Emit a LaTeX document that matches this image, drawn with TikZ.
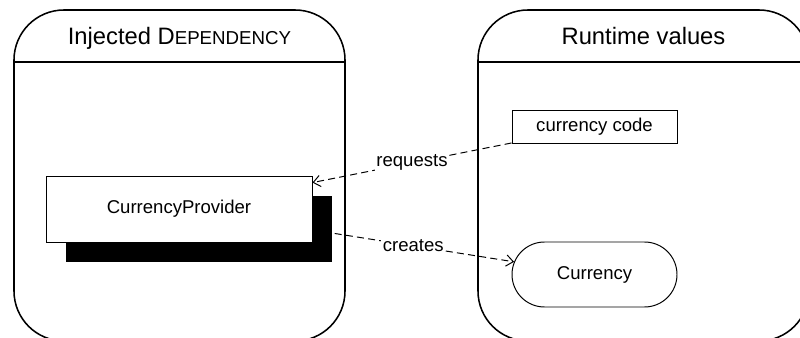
\documentclass[tikz,border=0pt]{standalone}
\usepackage{fontspec}
\setmainfont{Liberation Sans}
\usetikzlibrary{arrows.meta, shadows, shapes.misc}

\begin{document}
\begin{tikzpicture}[x=0.25mm, y=-0.25mm, font=\fontsize{13.2}{15}\selectfont,
    lane/.style={draw, line width=1.1pt, rounded corners=12.5mm,
      minimum width=82.75mm, minimum height=82.75mm, inner sep=0pt},
    box/.style={draw, line width=0.7pt, fill=white, inner sep=0pt},
    dep/.style={line width=0.7pt, dash pattern=on 5pt off 3pt,
      -{Straight Barb[length=5pt, width=8pt]}},
    lbl/.style={fill=white, inner sep=1pt, midway}]
  \path[use as bounding box, clip] (0,0) rectangle (800,338);
  % the two lanes, cut off at the bottom and on the right
  \node[lane] (inj) at (179.5,175.5) {};
  \node[lane] (run) at (643.5,175.5) {};
  \draw[line width=1.1pt] (inj.west |- 0,62) -- (inj.east |- 0,62);
  \draw[line width=1.1pt] (run.west |- 0,62) -- (run.east |- 0,62);
  \node[anchor=base] (injtitle) at (inj.north |- 0,45)
    {\fontsize{16.9}{20}\selectfont Injected D{\fontsize{13.3}{16}\selectfont EPENDENCY}};
  \node[anchor=base] (runtitle) at (run.north |- 0,45)
    {\fontsize{16.9}{20}\selectfont Runtime values};
  % the nodes
  \node[box, minimum width=66.5mm, minimum height=16.5mm,
    drop shadow={shadow xshift=5mm, shadow yshift=-5mm, fill=black, opacity=1}]
    (prov) at (179,209) {CurrencyProvider};
  \node[box, minimum width=41.25mm, minimum height=8.25mm]
    (code) at (594.5,126.5) {currency code};
  \node[box, rounded rectangle, minimum width=41.25mm, minimum height=16.25mm]
    (cur) at (594.5,274.5) {Currency};
  % dependencies
  \draw[dep] (code) -- node[lbl] (reqlbl) {requests} (prov);
  \draw[dep] (prov) -- node[lbl] (crelbl) {creates} (cur);
\end{tikzpicture}
\end{document}
